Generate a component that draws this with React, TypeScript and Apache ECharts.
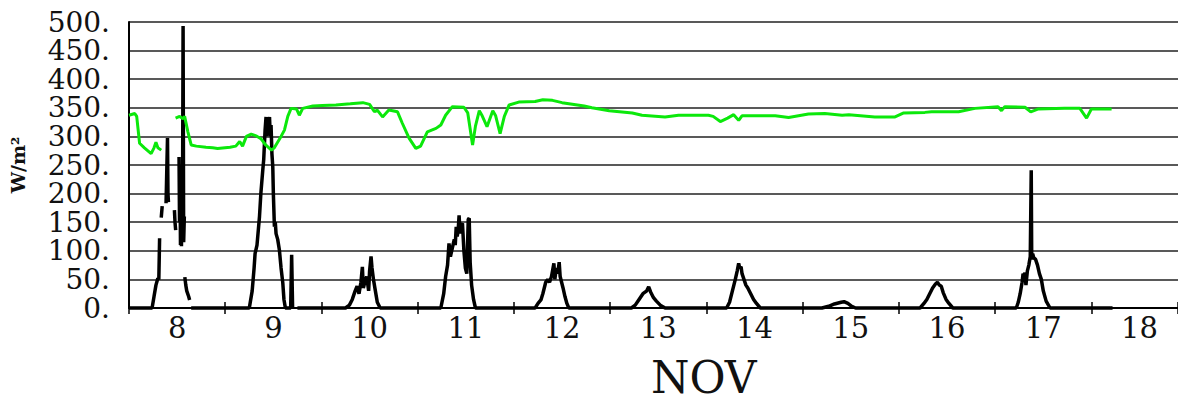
import React, { useEffect, useRef } from "react";
import * as echarts from "echarts";

// Time axis: t = day of November + fraction of day (t = 8 -> Nov 8 00:00)
const dayLabels = [8, 9, 10, 11, 12, 13, 14, 15, 16, 17, 18];
const yTicks = [0, 50, 100, 150, 200, 250, 300, 350, 400, 450, 500];

// Shortwave (black) — pieces separated by data gaps
const swNov8a: [number, number][] = [[8.0, 0], [8.24, 0], [8.26, 20], [8.28, 40], [8.3, 52], [8.31, 50], [8.318, 122]];
const swNov8b: [number, number][] = [[8.335, 158], [8.345, 178]];
const swNov8c: [number, number][] = [[8.385, 183], [8.39, 220], [8.4, 297], [8.405, 200], [8.41, 185]];
const swNov8d: [number, number][] = [[8.472, 171], [8.478, 150], [8.485, 136]];
const swNov8e: [number, number][] = [[8.52, 264], [8.525, 150], [8.53, 230], [8.535, 110], [8.54, 250], [8.545, 108], [8.55, 200], [8.555, 120], [8.562, 493], [8.568, 115], [8.575, 160]];
const swNov8f: [number, number][] = [[8.58, 54], [8.59, 40], [8.6, 30], [8.62, 20], [8.63, 14]];
const swNov9: [number, number][] = [
  [8.646, 0], [9.25, 0], [9.28, 30], [9.3, 70], [9.31, 95], [9.33, 110], [9.356, 160], [9.37, 200], [9.39, 241], [9.4, 260],
  [9.414, 311], [9.424, 334], [9.43, 300], [9.44, 330], [9.449, 320], [9.46, 334], [9.468, 300], [9.476, 320], [9.485, 270],
  [9.494, 247], [9.5, 200], [9.511, 142], [9.52, 150], [9.528, 130], [9.545, 120], [9.563, 101], [9.58, 70], [9.598, 44],
  [9.61, 15], [9.625, 0], [9.68, 0], [9.69, 93], [9.7, 0],
];
const swNov10: [number, number][] = [
  [9.75, 0], [10.25, 0], [10.29, 5], [10.32, 15], [10.35, 30], [10.37, 38], [10.39, 25], [10.41, 45], [10.425, 72], [10.435, 35],
  [10.45, 45], [10.47, 55], [10.49, 30], [10.5, 65], [10.515, 90], [10.525, 70], [10.54, 50], [10.56, 30], [10.58, 10], [10.61, 0],
];
const swNov11: [number, number][] = [
  [11.24, 0], [11.27, 25], [11.29, 55], [11.31, 75], [11.325, 113], [11.34, 90], [11.36, 105], [11.38, 120], [11.39, 110],
  [11.4, 142], [11.41, 125], [11.42, 135], [11.43, 162], [11.44, 130], [11.45, 145], [11.465, 148], [11.48, 100], [11.495, 70],
  [11.51, 60], [11.525, 155], [11.535, 157], [11.545, 80], [11.56, 40], [11.58, 15], [11.6, 0],
];
const swNov12: [number, number][] = [
  [12.22, 0], [12.25, 8], [12.28, 14], [12.3, 25], [12.33, 45], [12.35, 50], [12.37, 45], [12.39, 55], [12.415, 78], [12.425, 50],
  [12.44, 70], [12.455, 60], [12.47, 80], [12.48, 55], [12.495, 45], [12.51, 35], [12.53, 20], [12.55, 8], [12.57, 0],
];
const swNov13: [number, number][] = [[13.22, 0], [13.26, 5], [13.3, 15], [13.34, 25], [13.38, 30], [13.4, 37], [13.42, 28], [13.45, 18], [13.48, 12], [13.52, 5], [13.57, 0]];
const swNov14: [number, number][] = [
  [14.21, 0], [14.24, 10], [14.27, 30], [14.3, 50], [14.32, 65], [14.335, 78], [14.345, 70], [14.36, 72], [14.37, 60], [14.39, 50],
  [14.41, 40], [14.43, 35], [14.46, 25], [14.49, 15], [14.52, 8], [14.56, 0],
];
const swNov15: [number, number][] = [[15.2, 0], [15.27, 3], [15.33, 7], [15.4, 10], [15.43, 11], [15.47, 8], [15.51, 3], [15.55, 0]];
const swNov16: [number, number][] = [
  [16.22, 0], [16.26, 8], [16.29, 15], [16.32, 25], [16.35, 35], [16.38, 42], [16.4, 45], [16.42, 40], [16.44, 38], [16.46, 27],
  [16.49, 15], [16.52, 8], [16.56, 0],
];
const swNov17: [number, number][] = [
  [17.22, 0], [17.24, 10], [17.26, 25], [17.28, 45], [17.29, 60], [17.3, 55], [17.31, 62], [17.32, 40], [17.335, 65], [17.35, 75],
  [17.365, 90], [17.375, 241], [17.38, 85], [17.39, 95], [17.4, 88], [17.42, 85], [17.44, 75], [17.46, 60], [17.48, 50], [17.5, 30],
  [17.53, 12], [17.57, 0], [18.22, 0],
];

// Longwave (green)
const lwPart1: [number, number][] = [[8.0, 337], [8.06, 340], [8.08, 335], [8.11, 288], [8.16, 280], [8.23, 270], [8.26, 280], [8.28, 290], [8.3, 280], [8.335, 276]];
const lwPart2: [number, number][] = [
  [8.484, 332], [8.526, 335], [8.56, 331], [8.578, 335], [8.612, 308], [8.646, 285], [8.7, 283], [8.8, 281], [8.87, 280], [8.92, 279],
  [9.05, 281], [9.11, 283], [9.15, 291], [9.18, 283], [9.22, 300], [9.27, 304], [9.32, 301], [9.37, 296], [9.42, 285], [9.48, 276],
  [9.51, 280], [9.58, 300], [9.615, 311], [9.65, 335], [9.684, 349], [9.74, 348], [9.77, 337], [9.805, 349], [9.91, 353], [10.01, 354],
  [10.15, 355], [10.3, 357], [10.43, 359], [10.5, 356], [10.55, 343], [10.58, 346], [10.635, 334], [10.7, 346], [10.79, 343],
  [10.84, 323], [10.91, 297], [10.98, 279], [11.03, 283], [11.1, 308], [11.19, 314], [11.24, 320], [11.29, 337], [11.36, 352],
  [11.48, 351], [11.52, 341], [11.57, 285], [11.6, 318], [11.64, 345], [11.67, 336], [11.72, 317], [11.78, 345], [11.81, 336],
  [11.856, 305], [11.9, 335], [11.95, 355], [12.05, 360], [12.22, 361], [12.3, 364], [12.4, 363], [12.5, 359], [12.73, 353],
  [12.81, 350], [12.99, 345], [13.23, 341], [13.33, 337], [13.57, 334], [13.71, 337], [14.02, 337], [14.07, 335], [14.144, 326],
  [14.22, 332], [14.283, 338], [14.335, 328], [14.369, 336], [14.5, 336], [14.715, 336], [14.854, 333], [15.06, 339], [15.23, 340],
  [15.41, 337], [15.48, 338], [15.75, 334], [15.96, 334], [16.05, 341], [16.27, 342], [16.34, 343], [16.62, 343], [16.79, 349],
  [17.03, 352], [17.066, 345], [17.1, 352], [17.31, 351], [17.37, 343], [17.45, 348], [17.72, 349], [17.88, 349], [17.95, 332],
  [18.0, 348], [18.21, 348],
];

const swPieces = [swNov8a, swNov8b, swNov8c, swNov8d, swNov8e, swNov8f, swNov9, swNov10.concat(swNov11, swNov12, swNov13, swNov14, swNov15, swNov16, swNov17)];
const lwPieces = [lwPart1, lwPart2];

function joinPieces(pieces: [number, number][][]) {
  const out: any[] = [];
  pieces.forEach((p, i) => {
    if (i > 0) {
      const prev = pieces[i - 1];
      out.push([(prev[prev.length - 1][0] + p[0][0]) / 2, "-"]);
    }
    p.forEach((d) => out.push(d));
  });
  return out;
}

const FONT = "DejaVu Serif";

export default function App() {
  const ref = useRef<HTMLDivElement>(null);
  useEffect(() => {
    if (!ref.current) return;
    const chart = echarts.init(ref.current, null, { renderer: "svg" });
    const tickStyle = { show: true, inside: true, length: 6, lineStyle: { color: "#000", width: 1.5 } };
    chart.setOption({
      animation: false,
      backgroundColor: "#fff",
      grid: { left: 126, top: 22, right: 0, bottom: 93, containLabel: false },
      xAxis: [
        {
          type: "value", position: "bottom", min: 8, max: 18.9, interval: 0.5,
          axisLine: { show: true, onZero: false, lineStyle: { color: "#000", width: 2 } },
          axisTick: { show: false },
          axisLabel: {
            show: true, showMinLabel: true, showMaxLabel: false, hideOverlap: false, margin: 5,
            fontFamily: FONT, fontSize: 29, color: "#111",
            formatter: (v: number) => {
              const d = Math.floor(v + 1e-6);
              return Math.abs(v - d - 0.5) < 1e-6 && dayLabels.includes(d) ? String(d) : "";
            },
          },
          splitLine: { show: false },
        },
        {
          type: "value", position: "top", min: 8, max: 18.9, interval: 1,
          axisLine: { show: false }, axisTick: tickStyle, axisLabel: { show: false }, splitLine: { show: false },
        },
        {
          type: "value", position: "bottom", min: 8, max: 18.9, interval: 1,
          axisLine: { show: false, onZero: false }, axisTick: tickStyle, axisLabel: { show: false }, splitLine: { show: false },
        },
      ],
      yAxis: [
        {
          type: "value", min: 0, max: 500, interval: 50,
          name: "W/m²", nameLocation: "middle", nameRotate: 90, nameGap: 102,
          nameTextStyle: { fontFamily: FONT, fontSize: 19, fontWeight: "bold", color: "#111" },
          axisLine: { show: true, lineStyle: { color: "#000", width: 2 } },
          axisTick: { show: false },
          axisLabel: {
            showMinLabel: true, showMaxLabel: true, hideOverlap: false,
            margin: 19, fontFamily: FONT, fontSize: 28, lineHeight: 28, color: "#111",
            formatter: (v: number) => (yTicks.includes(v) ? v + "." : ""),
          },
          splitLine: { show: true, lineStyle: { color: "#222", width: 1.6 } },
        },
      ],
      graphic: [
        {
          type: "text", left: 651, top: 355,
          style: { text: "NOV", font: `44px "${FONT}"`, fill: "#111" },
        },
      ],
      series: [
        {
          type: "line", xAxisIndex: 0, data: joinPieces(swPieces), showSymbol: false, connectNulls: false, clip: false,
          lineStyle: { color: "#000", width: 3.5 }, z: 3,
        },
        {
          type: "line", xAxisIndex: 0, data: joinPieces(lwPieces), showSymbol: false, connectNulls: false, clip: false,
          lineStyle: { color: "#0be80b", width: 3 }, z: 4,
        },
        { type: "line", xAxisIndex: 1, data: [], showSymbol: false },
        { type: "line", xAxisIndex: 2, data: [], showSymbol: false },
      ],
    });
    return () => chart.dispose();
  }, []);
  return <div ref={ref} style={{ position: "fixed", left: 0, top: 0, width: 1178, height: 401 }} />;
}
